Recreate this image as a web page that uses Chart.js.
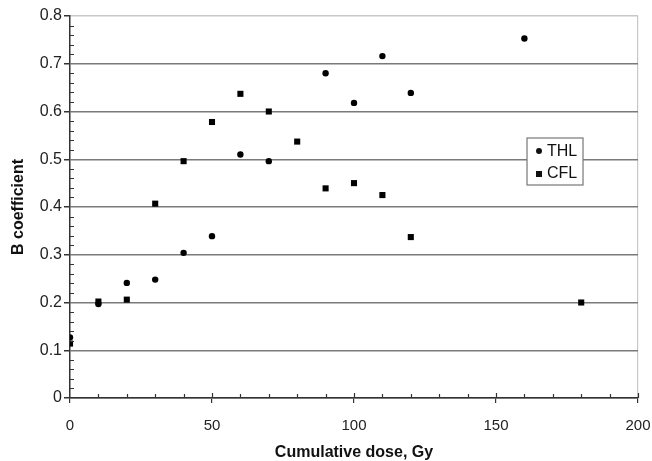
<!DOCTYPE html>
<html>
<head>
<meta charset="utf-8">
<script src="https://cdn.jsdelivr.net/npm/chart.js@4"></script>
<style>
  html, body { margin: 0; padding: 0; background: #fff; }
  #wrap { width: 652px; height: 461px; }
</style>
</head>
<body>
<div id="wrap"><canvas id="chart" width="652" height="461"></canvas></div>
<script>
// --- data ---
const thlDose = [0, 10, 20, 30, 40, 50, 60, 70, 90, 100, 110, 120, 160];
const thlB    = [0.127, 0.197, 0.241, 0.248, 0.304, 0.339, 0.510, 0.496, 0.680, 0.618, 0.716, 0.639, 0.753];
const cflDose = [0, 10, 20, 30, 40, 50, 60, 70, 80, 90, 100, 110, 120, 180];
const cflB    = [0.114, 0.202, 0.206, 0.407, 0.496, 0.578, 0.637, 0.600, 0.537, 0.439, 0.450, 0.425, 0.337, 0.200];
const seriesNames = ['THL', 'CFL'];
const xLabelEvery = 50;
const yLabelEvery = 0.1;

const FONT = '"Liberation Sans", Arial, sans-serif';
const AXIS = '#333';

function isMultiple(v, step) {
    const r = v / step;
    return Math.abs(r - Math.round(r)) < 1e-6;
}

// Excel style: minor ticks sit inside the plot, major x ticks cross the axis
const innerTicks = {
    id: 'innerTicks',
    afterDraw(chart) {
        const ctx = chart.ctx;
        const xs = chart.scales.x, ys = chart.scales.y;
        ctx.save();
        ctx.strokeStyle = AXIS;
        ctx.lineWidth = 1.2;
        ctx.beginPath();
        xs.ticks.forEach(t => {
            const px = Math.round(xs.getPixelForValue(t.value)) + 0.5;
            if (t.value === 0) return;
            const len = isMultiple(t.value, xLabelEvery) ? 5 : 4;
            ctx.moveTo(px, xs.top);
            ctx.lineTo(px, xs.top - len);
        });
        ys.ticks.forEach(t => {
            if (isMultiple(t.value, yLabelEvery)) return;
            const py = Math.round(ys.getPixelForValue(t.value)) + 0.5;
            ctx.moveTo(ys.right, py);
            ctx.lineTo(ys.right + 4, py);
        });
        ctx.stroke();
        ctx.restore();
    }
};

// boxed legend drawn inside the plot, like the original
const boxLegend = {
    id: 'boxLegend',
    afterDatasetsDraw(chart) {
        const ctx = chart.ctx;
        const a = chart.chartArea;
        const x = a.left + (a.right - a.left) * 0.8046;
        const y = a.top + 122;
        const w = 56, h = 47;
        ctx.save();
        ctx.fillStyle = '#fff';
        ctx.fillRect(x, y, w, h);
        ctx.strokeStyle = '#777';
        ctx.lineWidth = 1.2;
        ctx.strokeRect(x, y, w, h);
        ctx.font = '16px ' + FONT;
        ctx.fillStyle = '#111';
        ctx.textBaseline = 'middle';
        ctx.beginPath();
        ctx.arc(x + 12, y + 13, 3, 0, Math.PI * 2);
        ctx.fill();
        ctx.fillText(seriesNames[0], x + 20, y + 14);
        ctx.fillRect(x + 9, y + 33, 6, 6);
        ctx.fillText(seriesNames[1], x + 20, y + 36);
        ctx.restore();
    }
};

new Chart(document.getElementById('chart'), {
    type: 'scatter',
    data: {
        datasets: [
            {
                label: seriesNames[0],
                data: thlDose.map((d, i) => ({ x: d, y: thlB[i] })),
                pointStyle: 'circle',
                pointRadius: 3.2,
                pointBorderWidth: 0,
                backgroundColor: '#000',
                borderColor: '#000',
                order: 1
            },
            {
                label: seriesNames[1],
                data: cflDose.map((d, i) => ({ x: d, y: cflB[i] })),
                pointStyle: 'rect',
                pointRadius: 4.3,
                pointBorderWidth: 0,
                backgroundColor: '#000',
                borderColor: '#000',
                order: 0
            }
        ]
    },
    options: {
        responsive: false,
        animation: false,
        layout: { padding: { top: 16, right: 14, left: 0, bottom: 0 } },
        plugins: {
            legend: { display: false },
            tooltip: { enabled: false }
        },
        scales: {
            x: {
                type: 'linear',
                min: 0,
                max: 200,
                afterFit: s => { s.height = 63; s.paddingLeft = 0; s.paddingRight = 0; },
                border: { display: true, color: AXIS, width: 1.5 },
                grid: {
                    drawOnChartArea: true,
                    color: c => c.tick && c.tick.value === 200 ? '#c8c8c8' : 'rgba(0,0,0,0)',
                    tickColor: c => c.tick && isMultiple(c.tick.value, xLabelEvery) ? AXIS : 'rgba(0,0,0,0)',
                    tickLength: 5,
                    lineWidth: 1.2
                },
                ticks: {
                    stepSize: 10,
                    autoSkip: false,
                    maxRotation: 0,
                    padding: 14,
                    color: '#222',
                    font: { family: FONT, size: 15 },
                    callback: v => isMultiple(v, xLabelEvery) ? String(v) : ''
                },
                title: {
                    display: true,
                    text: 'Cumulative dose, Gy',
                    color: '#111',
                    font: { family: FONT, size: 16, weight: 'bold', lineHeight: 1 },
                    padding: { top: 0, bottom: 0 }
                }
            },
            y: {
                type: 'linear',
                min: 0,
                max: 0.8,
                afterFit: s => { s.width = 70; s.paddingTop = 0; s.paddingBottom = 0; },
                border: { display: true, color: AXIS, width: 1.5 },
                grid: {
                    color: c => {
                        if (!c.tick) return 'rgba(0,0,0,0)';
                        const v = c.tick.value;
                        if (!isMultiple(v, yLabelEvery)) return 'rgba(0,0,0,0)';
                        return Math.abs(v - 0.8) < 1e-6 ? '#c8c8c8' : '#7a7a7a';
                    },
                    lineWidth: 1.5,
                    tickColor: c => c.tick && isMultiple(c.tick.value, yLabelEvery) ? AXIS : 'rgba(0,0,0,0)',
                    tickLength: 6
                },
                ticks: {
                    stepSize: 0.02,
                    autoSkip: false,
                    padding: 2,
                    color: '#222',
                    font: { family: FONT, size: 16 },
                    callback: v => isMultiple(v, yLabelEvery) ? String(Math.round(v * 10) / 10) : ''
                },
                title: {
                    display: true,
                    text: 'B coefficient',
                    color: '#111',
                    font: { family: FONT, size: 16, weight: 'bold' },
                    padding: { top: 9, bottom: 0 }
                }
            }
        }
    },
    plugins: [boxLegend, innerTicks]
});
</script>
</body>
</html>
